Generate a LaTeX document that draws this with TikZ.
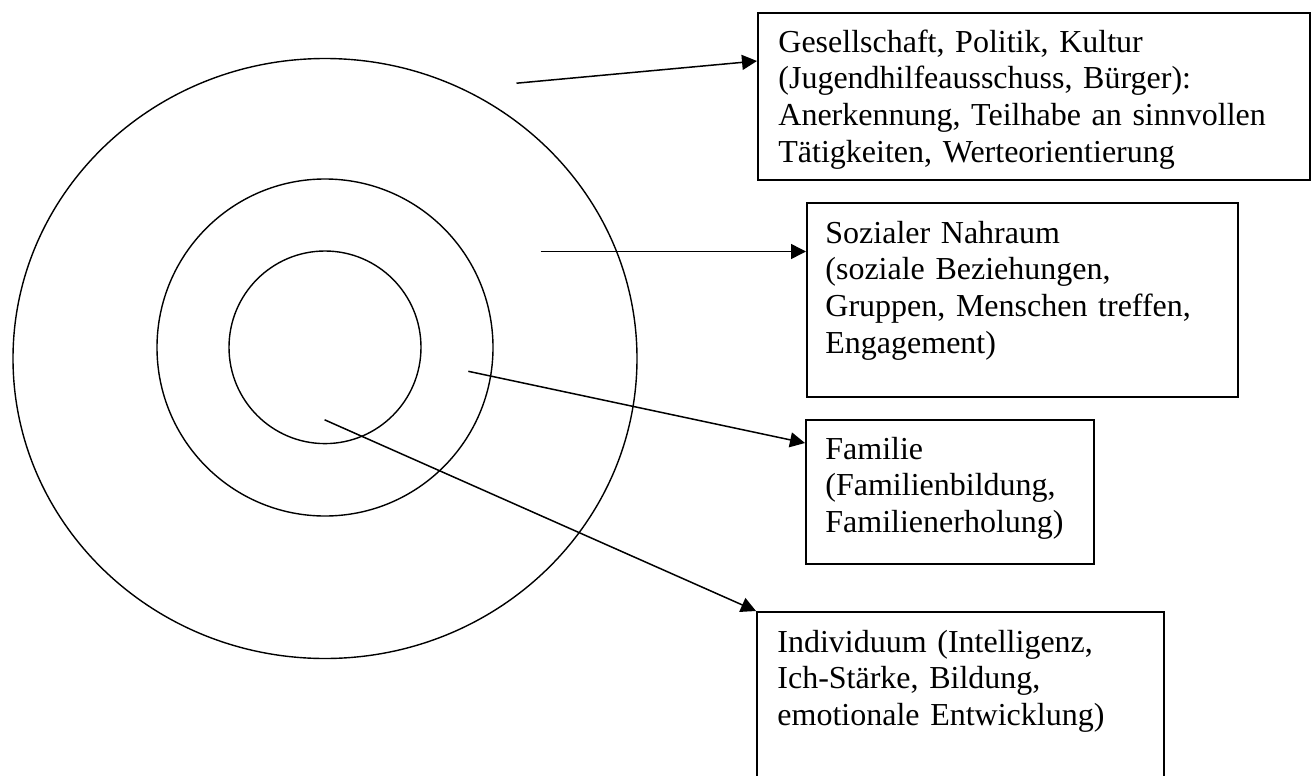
\documentclass[tikz,border=0pt]{standalone}
\usepackage{fontspec}
\setmainfont{Liberation Serif}
\usetikzlibrary{arrows.meta,calc}
\tikzset{
  boxn/.style={draw=black, line width=0.8pt, rectangle, inner sep=0pt, anchor=north west},
  txt/.style={inner sep=0pt, anchor=base west, align=left, font=\fontsize{16}{18.4}\selectfont},
  ring/.style={draw=black, line width=0.7pt},
  conn/.style={draw=black, line width=0.75pt, -{Triangle[length=7.5pt,width=7.5pt]}}
}
\begin{document}
\begin{tikzpicture}[x=0.5pt, y=-0.5pt]
\useasboundingbox (0,0) rectangle (1312,776);
\clip (0,0) rectangle (1312,776);
% rings
\draw[ring] (325,358.5) ellipse [x radius=312, y radius=300];
\draw[ring] (325,347.5) ellipse [x radius=168, y radius=168.5];
\draw[ring] (325,347.3) ellipse [x radius=96, y radius=96.3];
% boxes
\node[boxn, minimum width=276pt, minimum height=83.5pt] (b1) at (757,12) {};
\node[boxn, minimum width=215.5pt, minimum height=97pt] (b2) at (806,202) {};
\node[boxn, minimum width=144pt, minimum height=72pt] (b3) at (805,419) {};
\node[boxn, minimum width=203.5pt, minimum height=110pt] (b4) at (756,611) {};
% texts
\node[txt, text width=255pt] (t1) at (778,52) {Gesellschaft, Politik, Kultur\\(Jugendhilfeausschuss, Bürger):\\Anerkennung, Teilhabe an sinnvollen\\Tätigkeiten, Werteorientierung};
\node[txt, text width=205pt] (t2) at (825,243) {Sozialer Nahraum\\(soziale Beziehungen,\\Gruppen, Menschen treffen,\\Engagement)};
\node[txt, text width=134pt] (t3) at (825,459) {Familie\\(Familienbildung,\\Familienerholung)};
\node[txt, text width=190pt] (t4) at (777,652) {Individuum (Intelligenz,\\Ich-Stärke, Bildung,\\emotionale Entwicklung)};
% arrow start points
\coordinate (s1) at (516.5,83.2);
\coordinate (s2) at (540.6,251.5);
\coordinate (s3) at (468.3,371.3);
\coordinate (s4) at (324.6,419.8);
% connectors
\draw[conn] (s1) -- ($(b1.north west)+(0,49)$);
\draw[conn] (s2) -- ($(b2.north west)+(0,49.5)$);
\draw[conn] (s3) -- ($(b3.north west)+(0,24)$);
\draw[conn] (s4) -- (b4.north west);
\end{tikzpicture}
\end{document}
